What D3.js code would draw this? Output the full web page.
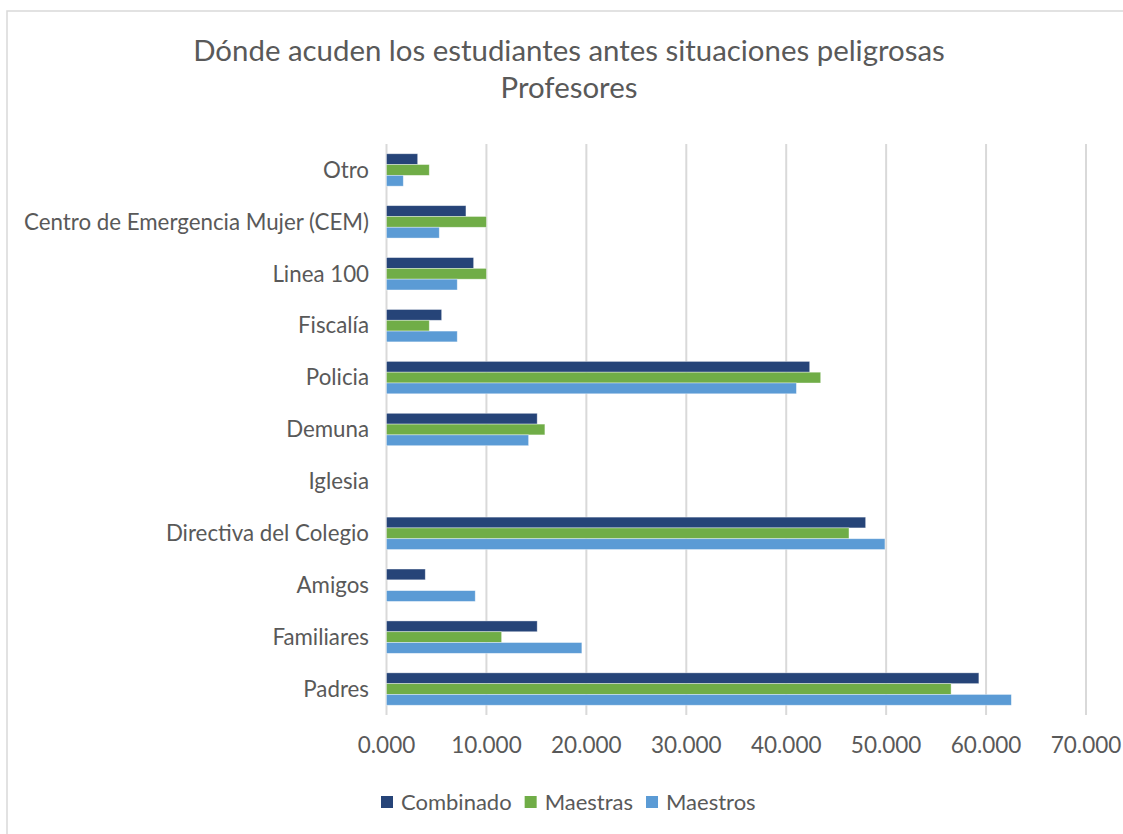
<!DOCTYPE html>
<html>
<head>
<meta charset="utf-8">
<script src="https://cdn.jsdelivr.net/npm/d3@7.9.0/dist/d3.min.js"></script>
<style>
  body { margin: 0; background: #fff; }
  svg { display: block; font-family: Lato, "Open Sans", sans-serif; }
</style>
</head>
<body>
<svg id="chart" width="1123" height="834"></svg>
<script>
// categories, top to bottom as drawn
const categories = ["Otro", "Centro de Emergencia Mujer (CEM)", "Linea 100", "Fiscalía", "Policia",
  "Demuna", "Iglesia", "Directiva del Colegio", "Amigos", "Familiares", "Padres"];
const seriesNames = ["Combinado", "Maestras", "Maestros"];
const seriesColors = ["#264478", "#70ad47", "#5b9bd5"];

const combinado = [3.12, 7.95, 8.72, 5.52, 42.35, 15.08, 0, 47.95, 3.88, 15.08, 59.28];
const maestras  = [4.28, 10.0, 10.0, 4.28, 43.45, 15.85, 0, 46.28, 0, 11.52, 56.5];
const maestros  = [1.68, 5.28, 7.08, 7.08, 41.02, 14.22, 0, 49.88, 8.88, 19.55, 62.53];
const xTicks = [0, 10, 20, 30, 40, 50, 60, 70];

const values = [combinado, maestras, maestros];
const rows = categories.map((c, i) => ({ cat: c, vals: values.map(v => v[i]) }));

const svg = d3.select("#chart");
const textColor = "#595959";
const gridColor = "#d9d9d9";

// outer chart frame (continues past the right and bottom edge)
svg.append("rect")
  .attr("x", 7).attr("y", 11)
  .attr("width", 1140).attr("height", 840)
  .attr("fill", "none").attr("stroke", gridColor).attr("stroke-width", 1.5);

const margin = { left: 386.5, right: 1086, top: 144, bottom: 715 };

const x = d3.scaleLinear().domain([0, 70]).range([margin.left, margin.right]);
const y = d3.scaleBand().domain(categories).range([margin.top, margin.bottom]).paddingInner(0).paddingOuter(0);
const inner = d3.scaleBand().domain(seriesNames).range([0, 32.4]);

// gridlines
svg.append("g").selectAll("line")
  .data(xTicks)
  .join("line")
  .attr("x1", d => x(d)).attr("x2", d => x(d))
  .attr("y1", margin.top).attr("y2", margin.bottom)
  .attr("stroke", gridColor).attr("stroke-width", 2);

// bars
const groups = svg.append("g").selectAll("g")
  .data(rows)
  .join("g")
  .attr("transform", d => `translate(0,${y(d.cat) + (y.bandwidth() - 32.4) / 2})`);

groups.selectAll("rect")
  .data(d => d.vals.map((v, k) => ({ v, k })))
  .join("rect")
  .filter(d => d.v > 0)
  .attr("x", x(0))
  .attr("y", d => inner(seriesNames[d.k]))
  .attr("width", d => x(d.v) - x(0))
  .attr("height", inner.bandwidth())
  .attr("fill", d => seriesColors[d.k])
  .attr("stroke", "#ffffff").attr("stroke-opacity", 0.5).attr("stroke-width", 0.75);

// category labels
svg.append("g").selectAll("text")
  .data(categories)
  .join("text")
  .attr("x", 369)
  .attr("y", d => y(d) + y.bandwidth() / 2)
  .attr("dy", "0.35em")
  .attr("text-anchor", "end")
  .attr("font-size", 22.3)
  .attr("fill", textColor)
  .text(d => d);

// x tick labels
svg.append("g").selectAll("text")
  .data(xTicks)
  .join("text")
  .attr("x", d => x(d))
  .attr("y", 745)
  .attr("dy", "0.35em")
  .attr("text-anchor", "middle")
  .attr("font-size", 22.5)
  .attr("fill", textColor)
  .text(d => d3.format(".3f")(d));

// title
const title = svg.append("text")
  .attr("x", 569).attr("y", 51)
  .attr("text-anchor", "middle")
  .attr("font-size", 29.4)
  .attr("fill", textColor);
title.append("tspan").attr("x", 569).attr("dy", "0.35em").text("Dónde acuden los estudiantes antes situaciones peligrosas");
title.append("tspan").attr("x", 569).attr("dy", "1.26em").text("Profesores");

// legend
const legend = svg.append("g").attr("transform", "translate(381,802)");
let lx = 0;
seriesNames.forEach((name, i) => {
  const g = legend.append("g").attr("transform", `translate(${lx},0)`);
  g.append("rect").attr("x", 0).attr("y", -6).attr("width", 12).attr("height", 12)
    .attr("fill", seriesColors[i]);
  const t = g.append("text").attr("x", 20).attr("dy", "0.35em")
    .attr("font-size", 22).attr("fill", textColor).text(name);
  lx += 20 + t.node().getComputedTextLength() + 13;
});
</script>
</body>
</html>
